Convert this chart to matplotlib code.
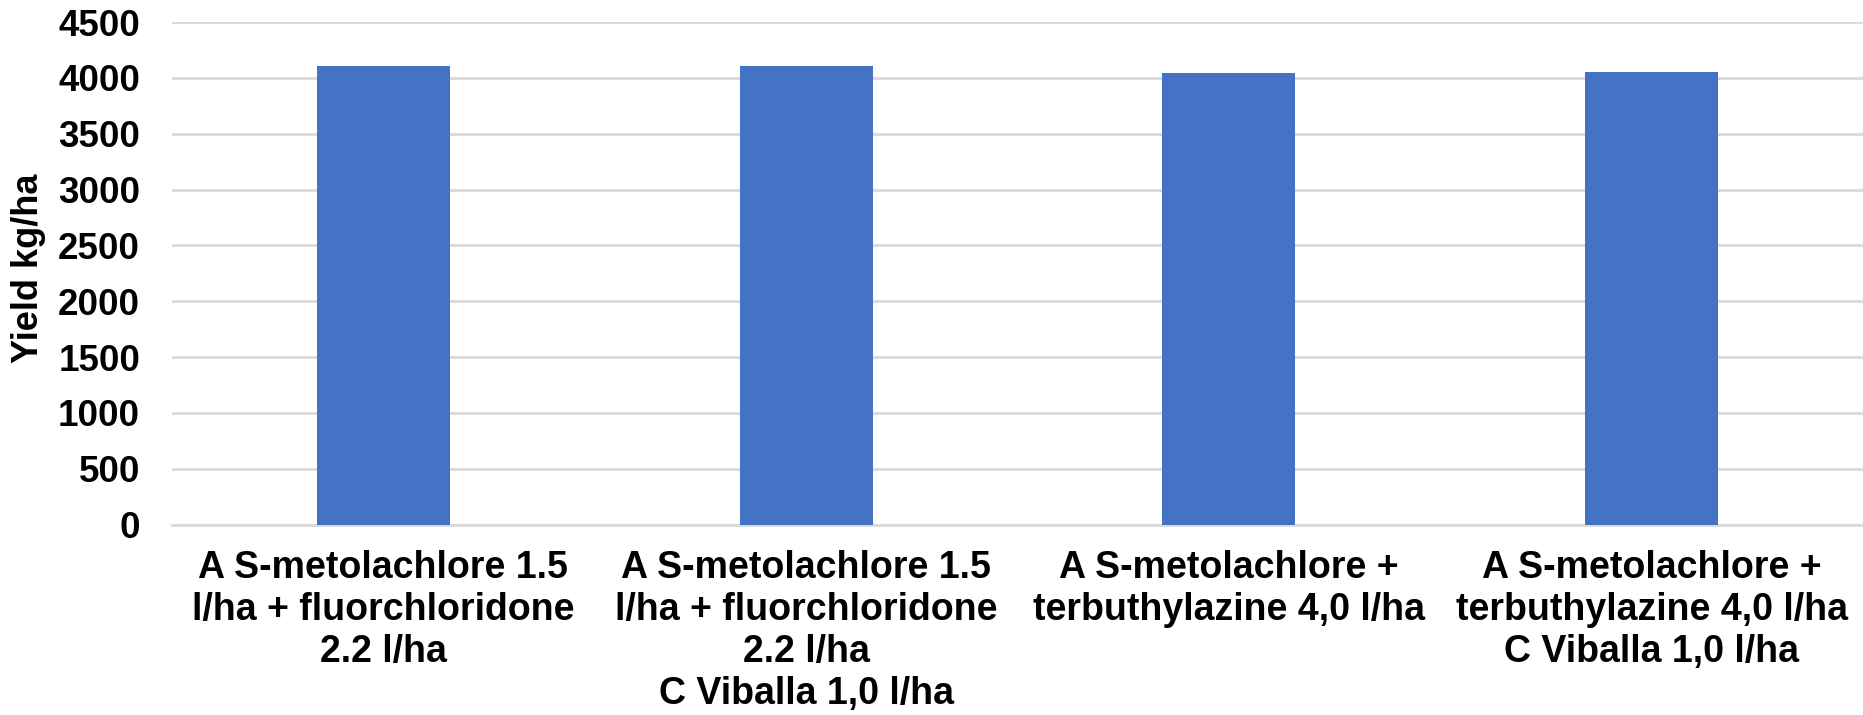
import numpy as np
import matplotlib
matplotlib.use("Agg")
import matplotlib.pyplot as plt

# data
treatments = [
    "A S-metolachlore 1.5\nl/ha + fluorchloridone\n2.2 l/ha",
    "A S-metolachlore 1.5\nl/ha + fluorchloridone\n2.2 l/ha\nC Viballa 1,0 l/ha",
    "A S-metolachlore +\nterbuthylazine 4,0 l/ha",
    "A S-metolachlore +\nterbuthylazine 4,0 l/ha\nC Viballa 1,0 l/ha",
]
yield_kg_ha = [4107, 4107, 4048, 4057]
y_ticks = [0, 500, 1000, 1500, 2000, 2500, 3000, 3500, 4000, 4500]

plt.rcParams['font.family'] = ['Liberation Sans', 'DejaVu Sans']
plt.rcParams['font.weight'] = 'bold'

fig = plt.figure(figsize=(18.63, 7.15), dpi=100)
ax = fig.add_axes([0.0923, 0.2662, 0.9077, 0.703])

x = np.arange(len(treatments))
ax.bar(x, yield_kg_ha, width=0.315, color='#4472C4', zorder=3)

ax.set_xlim(-0.5, len(treatments) - 0.5)
ax.set_ylim(0, 4500)
ax.set_yticks(y_ticks)
ax.set_yticklabels([str(v) for v in y_ticks], fontsize=26.5, fontweight='bold')
ax.set_xticks(x)
ax.set_xticklabels(treatments, fontsize=27, fontweight='bold', linespacing=1.22)

ax.grid(axis='y', color='#d9d9d9', linewidth=2, zorder=0)
for s in ['top', 'right', 'left']:
    ax.spines[s].set_visible(False)
ax.spines['bottom'].set_color('#d9d9d9')
ax.spines['bottom'].set_linewidth(2)
ax.tick_params(axis='both', length=0)
ax.tick_params(axis='y', pad=23)
ax.tick_params(axis='x', pad=18)

ax.set_ylabel('Yield kg/ha', fontsize=26, fontweight='bold')
ax.yaxis.set_label_coords(-0.0745, 0.51)

fig.savefig('out.png', dpi=100)
